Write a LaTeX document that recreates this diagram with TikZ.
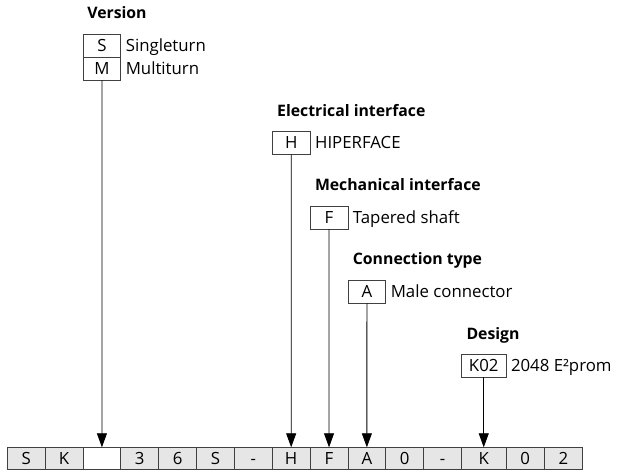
\documentclass[tikz,border=0pt]{standalone}
\usepackage{fontspec}
\setmainfont{Open Sans}
\usepackage{tikz}
\usetikzlibrary{arrows.meta, positioning}

\definecolor{framegray}{HTML}{404040}
\definecolor{cellgray}{HTML}{E6E6E6}

\tikzset{
    txt/.style={inner sep=0pt, outer sep=0pt, font=\fontsize{16.8}{20}\selectfont, text height=11.9pt, text depth=0pt},
    grouptitle/.style={txt, anchor=west, font=\fontsize{15.8}{19}\selectfont\bfseries, text height=11.3pt},
    optbox/.style={txt, draw=framegray, line width=0.8pt, minimum width=37.85pt, minimum height=23pt},
    optlabel/.style={txt, anchor=west},
    cell/.style={txt, draw=framegray, line width=0.8pt, minimum height=22pt},
    conn/.style={draw=black, line width=0.8pt, -{Triangle[length=14pt, width=10pt]}}
}

\begin{document}
\begin{tikzpicture}[x=1pt, y=-1pt]
    \useasboundingbox (0,0) rectangle (619,472);

    % Type code row
    \foreach \i/\l/\r/\t/\f in {0/7.3/45.15/S/cellgray, 1/45.15/83.0/K/cellgray,
        2/83.0/120.85//white, 3/120.85/158.7/3/cellgray, 4/158.7/196.55/6/cellgray,
        5/196.55/234.4/S/cellgray, 6/234.4/272.25/-/cellgray, 7/272.25/310.1/H/cellgray,
        8/310.1/347.95/F/cellgray, 9/347.95/385.8/A/cellgray, 10/385.8/423.65/0/cellgray,
        11/423.65/461.5/-/cellgray, 12/461.5/506.0/K/cellgray, 13/506.0/544.3/0/cellgray,
        14/544.3/582.7/2/cellgray}
        \node[cell, fill=\f, minimum width={\r-\l}] (c\i) at ({(\l+\r)/2}, 458.3) {\t};

    % Version
    \node[grouptitle] (vertitle) at (87.3, 13.3) {Version};
    \node[optbox] (verS) at (101.9, 45.8) {S};
    \node[optbox] (verM) at (101.9, 68.8) {M};
    \node[optlabel, right=5pt of verS] (verSlabel) {Singleturn};
    \node[optlabel, right=5pt of verM] (verMlabel) {Multiturn};
    \draw[conn] (verM.south) -- (c2.north);

    % Electrical interface
    \node[grouptitle] (electitle) at (277.2, 111) {Electrical interface};
    \node[optbox] (elecH) at (291.2, 143) {H};
    \node[optlabel, right=5pt of elecH] (elecHlabel) {HIPERFACE};
    \draw[conn] (elecH.south) -- (c7.north);

    % Mechanical interface
    \node[grouptitle] (mechtitle) at (315, 185) {Mechanical interface};
    \node[optbox] (mechF) at (329.0, 217.5) {F};
    \node[optlabel, right=5pt of mechF] (mechFlabel) {Tapered shaft};
    \draw[conn] (mechF.south) -- (c8.north);

    % Connection type
    \node[grouptitle] (conntitle) at (352.9, 259) {Connection type};
    \node[optbox] (connA) at (366.9, 291.8) {A};
    \node[optlabel, right=5pt of connA] (connAlabel) {Male connector};
    \draw[conn] (connA.south) -- (c9.north);

    % Design
    \node[grouptitle] (destitle) at (466.5, 333.5) {Design};
    \node[optbox, minimum width=44.5pt] (desK) at (483.75, 365.5) {K02};
    \node[optlabel, right=5pt of desK] (desKlabel) {2048 E²prom};
    \draw[conn] (desK.south) -- (c12.north);

\end{tikzpicture}
\end{document}
